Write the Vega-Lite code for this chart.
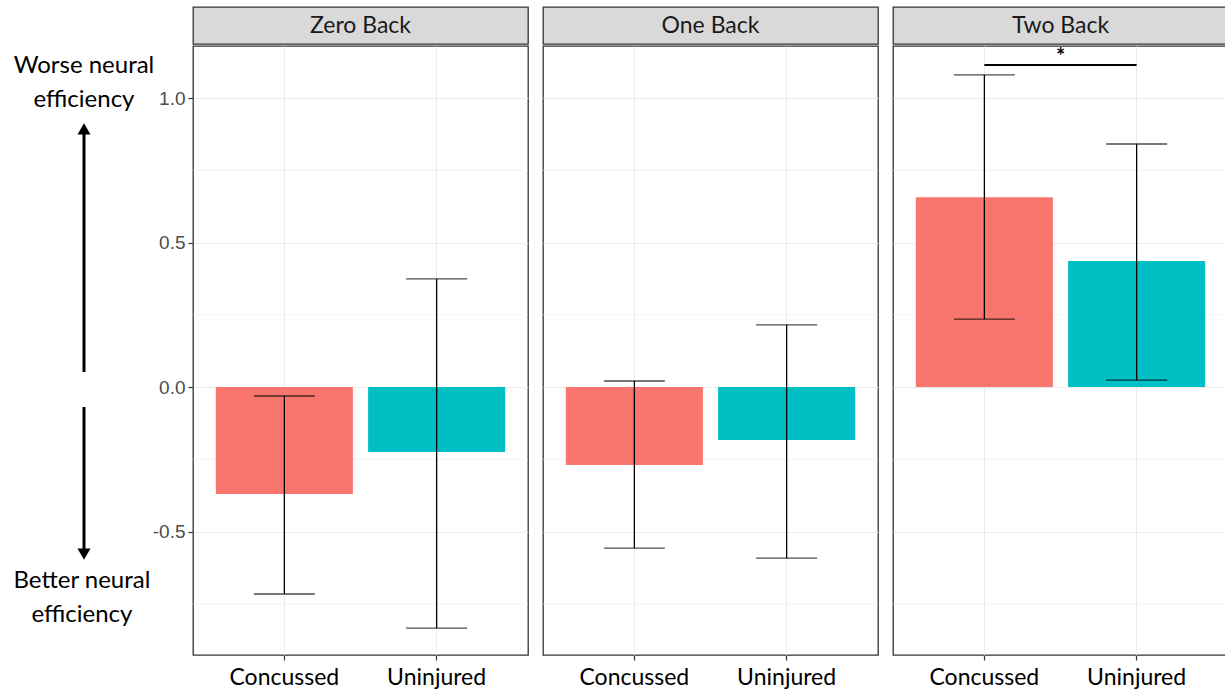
{
  "$schema": "https://vega.github.io/schema/vega-lite/v6.json",
  "padding": {"left": 0, "top": 6, "right": 0, "bottom": 0},
  "background": "white",
  "bounds": "flush",
  "datasets": {
    "bars": [
      {"task": "Zero Back", "group": "Concussed", "mean": -0.370, "lo": -0.716, "hi": -0.031},
      {"task": "Zero Back", "group": "Uninjured", "mean": -0.225, "lo": -0.834, "hi": 0.374},
      {"task": "One Back", "group": "Concussed", "mean": -0.270, "lo": -0.557, "hi": 0.021},
      {"task": "One Back", "group": "Uninjured", "mean": -0.183, "lo": -0.592, "hi": 0.215},
      {"task": "Two Back", "group": "Concussed", "mean": 0.657, "lo": 0.235, "hi": 1.080},
      {"task": "Two Back", "group": "Uninjured", "mean": 0.436, "lo": 0.024, "hi": 0.841}
    ],
    "grid": [{"v": -0.75}, {"v": -0.25}, {"v": 0.25}, {"v": 0.75}],
    "sig": [{"task": "Two Back", "from": "Concussed", "to": "Uninjured", "y": 1.114, "label": "*", "ly": 1.142}],
    "notes": [
      {"label": "Worse neural", "x": 0.6, "y": 1.104},
      {"label": "efficiency", "x": 0.6, "y": 0.986},
      {"label": "Better neural", "x": 0.585, "y": -0.678},
      {"label": "efficiency", "x": 0.585, "y": -0.796}
    ],
    "shafts": [
      {"x": 0.6, "y1": 0.045, "y2": 0.87},
      {"x": 0.6, "y1": -0.076, "y2": -0.57}
    ],
    "heads": [
      {"x": 0.6, "y": 0.886, "dir": "up"},
      {"x": 0.6, "y": -0.585, "dir": "down"}
    ],
    "strips": [{"task": "Zero Back"}, {"task": "One Back"}, {"task": "Two Back"}]
  },
  "config": {
    "axis": {"domain": false, "titleFont": "Lato"},
    "text": {"font": "Lato"}
  },
  "spacing": 53,
  "hconcat": [
    {
      "width": 140,
      "height": 646,
      "view": {"stroke": null},
      "layer": [
        {
          "data": {"name": "shafts"},
          "mark": {"type": "rule", "strokeWidth": 3, "color": "black"},
          "encoding": {
            "x": {"field": "x", "type": "quantitative", "scale": {"domain": [0, 1]}, "axis": null},
            "y": {"field": "y1", "type": "quantitative", "scale": {"domain": [-0.927, 1.308], "nice": false, "zero": false}, "axis": null},
            "y2": {"field": "y2"}
          }
        },
        {
          "data": {"name": "heads"},
          "mark": {"type": "point", "filled": true, "color": "black", "opacity": 1, "size": 170},
          "encoding": {
            "x": {"field": "x", "type": "quantitative", "scale": {"domain": [0, 1]}, "axis": null},
            "y": {"field": "y", "type": "quantitative", "scale": {"domain": [-0.927, 1.308], "nice": false, "zero": false}, "axis": null},
            "shape": {"field": "dir", "type": "nominal", "scale": {"domain": ["up", "down"], "range": ["triangle-up", "triangle-down"]}, "legend": null}
          }
        },
        {
          "data": {"name": "notes"},
          "mark": {"type": "text", "font": "Lato", "fontSize": 24, "color": "black", "align": "center", "baseline": "middle"},
          "encoding": {
            "x": {"field": "x", "type": "quantitative", "scale": {"domain": [0, 1]}, "axis": null},
            "y": {"field": "y", "type": "quantitative", "scale": {"domain": [-0.927, 1.308], "nice": false, "zero": false}, "axis": null},
            "text": {"field": "label"}
          }
        }
      ]
    },
    {
      "spacing": 13,
      "hconcat": [
        {
          "spacing": 0,
          "vconcat": [
            {
              "width": 335, "height": 37,
              "view": {"fill": "#d9d9d9", "stroke": "#333333", "strokeWidth": 1.3},
              "data": {"name": "strips"},
              "transform": [{"filter": "datum.task === 'Zero Back'"}],
              "mark": {"type": "text", "font": "Lato", "fontSize": 23, "color": "#1a1a1a"},
              "encoding": {"text": {"field": "task"}}
            },
            {
              "width": 335, "height": 609,
              "view": {"stroke": "#333333", "strokeWidth": 1.3},
              "layer": [
                {
                  "data": {"name": "grid"},
                  "mark": {"type": "rule", "color": "#ebebeb", "strokeWidth": 0.6},
                  "encoding": {
                    "y": {"field": "v", "type": "quantitative", "title": null, "scale": {"domain": [-0.927, 1.180], "nice": false, "zero": false}}
                  }
                },
                {
                  "data": {"name": "bars"},
                  "transform": [{"filter": "datum.task === 'Zero Back'"}],
                  "mark": {"type": "bar"},
                  "encoding": {
                    "x": {"field": "group", "type": "nominal", "title": null, "sort": ["Concussed", "Uninjured"],
                      "scale": {"paddingInner": 0.1, "paddingOuter": 0.15},
                      "axis": {"labelAngle": 0, "labelFont": "Lato", "labelFontSize": 23, "labelColor": "black", "tickColor": "#333333", "tickSize": 5, "tickWidth": 1.2, "bandPosition": 0.5, "grid": true, "gridColor": "#ebebeb", "gridWidth": 1.1, "labelPadding": 6}},
                    "y": {"field": "mean", "type": "quantitative", "title": null,
                      "scale": {"domain": [-0.927, 1.180], "nice": false, "zero": false},
                      "axis": {"values": [-0.5, 0, 0.5, 1], "labelExpr": "replace(format(datum.value, '.1f'), '\u2212', '-')", "labelFont": "Liberation Sans", "labelFontSize": 19, "labelColor": "#4d4d4d", "tickColor": "#333333", "tickSize": 5, "tickWidth": 1.2, "gridColor": "#ebebeb", "gridWidth": 1.1, "labelPadding": 3}},
                    "y2": {"datum": 0},
                    "color": {"field": "group", "type": "nominal", "scale": {"domain": ["Concussed", "Uninjured"], "range": ["#F8766D", "#00BFC4"]}, "legend": null}
                  }
                },
                {
                  "data": {"name": "bars"},
                  "transform": [{"filter": "datum.task === 'Zero Back'"}],
                  "mark": {"type": "rule", "color": "black", "strokeWidth": 1.3},
                  "encoding": {
                    "x": {"field": "group", "type": "nominal", "title": null, "sort": ["Concussed", "Uninjured"]},
                    "y": {"field": "lo", "type": "quantitative", "title": null},
                    "y2": {"field": "hi"}
                  }
                },
                {
                  "data": {"name": "bars"},
                  "transform": [{"filter": "datum.task === 'Zero Back'"}, {"fold": ["lo", "hi"], "as": ["end", "val"]}],
                  "mark": {"type": "tick", "color": "black", "size": 61, "thickness": 1.3, "orient": "horizontal"},
                  "encoding": {
                    "x": {"field": "group", "type": "nominal", "title": null, "sort": ["Concussed", "Uninjured"]},
                    "y": {"field": "val", "type": "quantitative", "title": null}
                  }
                }
              ]
            }
          ]
        },
        {
          "spacing": 0,
          "vconcat": [
            {
              "width": 335, "height": 37,
              "view": {"fill": "#d9d9d9", "stroke": "#333333", "strokeWidth": 1.3},
              "data": {"name": "strips"},
              "transform": [{"filter": "datum.task === 'One Back'"}],
              "mark": {"type": "text", "font": "Lato", "fontSize": 23, "color": "#1a1a1a"},
              "encoding": {"text": {"field": "task"}}
            },
            {
              "width": 335, "height": 609,
              "view": {"stroke": "#333333", "strokeWidth": 1.3},
              "layer": [
                {
                  "data": {"name": "grid"},
                  "mark": {"type": "rule", "color": "#ebebeb", "strokeWidth": 0.6},
                  "encoding": {
                    "y": {"field": "v", "type": "quantitative", "title": null, "scale": {"domain": [-0.927, 1.180], "nice": false, "zero": false}}
                  }
                },
                {
                  "data": {"name": "bars"},
                  "transform": [{"filter": "datum.task === 'One Back'"}],
                  "mark": {"type": "bar"},
                  "encoding": {
                    "x": {"field": "group", "type": "nominal", "title": null, "sort": ["Concussed", "Uninjured"],
                      "scale": {"paddingInner": 0.1, "paddingOuter": 0.15},
                      "axis": {"labelAngle": 0, "labelFont": "Lato", "labelFontSize": 23, "labelColor": "black", "tickColor": "#333333", "tickSize": 5, "tickWidth": 1.2, "bandPosition": 0.5, "grid": true, "gridColor": "#ebebeb", "gridWidth": 1.1, "labelPadding": 6}},
                    "y": {"field": "mean", "type": "quantitative", "title": null,
                      "scale": {"domain": [-0.927, 1.180], "nice": false, "zero": false},
                      "axis": {"values": [-0.5, 0, 0.5, 1], "labels": false, "ticks": false, "gridColor": "#ebebeb", "gridWidth": 1.1}},
                    "y2": {"datum": 0},
                    "color": {"field": "group", "type": "nominal", "scale": {"domain": ["Concussed", "Uninjured"], "range": ["#F8766D", "#00BFC4"]}, "legend": null}
                  }
                },
                {
                  "data": {"name": "bars"},
                  "transform": [{"filter": "datum.task === 'One Back'"}],
                  "mark": {"type": "rule", "color": "black", "strokeWidth": 1.3},
                  "encoding": {
                    "x": {"field": "group", "type": "nominal", "title": null, "sort": ["Concussed", "Uninjured"]},
                    "y": {"field": "lo", "type": "quantitative", "title": null},
                    "y2": {"field": "hi"}
                  }
                },
                {
                  "data": {"name": "bars"},
                  "transform": [{"filter": "datum.task === 'One Back'"}, {"fold": ["lo", "hi"], "as": ["end", "val"]}],
                  "mark": {"type": "tick", "color": "black", "size": 61, "thickness": 1.3, "orient": "horizontal"},
                  "encoding": {
                    "x": {"field": "group", "type": "nominal", "title": null, "sort": ["Concussed", "Uninjured"]},
                    "y": {"field": "val", "type": "quantitative", "title": null}
                  }
                }
              ]
            }
          ]
        },
        {
          "spacing": 0,
          "vconcat": [
            {
              "width": 335, "height": 37,
              "view": {"fill": "#d9d9d9", "stroke": "#333333", "strokeWidth": 1.3},
              "data": {"name": "strips"},
              "transform": [{"filter": "datum.task === 'Two Back'"}],
              "mark": {"type": "text", "font": "Lato", "fontSize": 23, "color": "#1a1a1a"},
              "encoding": {"text": {"field": "task"}}
            },
            {
              "width": 335, "height": 609,
              "view": {"stroke": "#333333", "strokeWidth": 1.3},
              "layer": [
                {
                  "data": {"name": "grid"},
                  "mark": {"type": "rule", "color": "#ebebeb", "strokeWidth": 0.6},
                  "encoding": {
                    "y": {"field": "v", "type": "quantitative", "title": null, "scale": {"domain": [-0.927, 1.180], "nice": false, "zero": false}}
                  }
                },
                {
                  "data": {"name": "bars"},
                  "transform": [{"filter": "datum.task === 'Two Back'"}],
                  "mark": {"type": "bar"},
                  "encoding": {
                    "x": {"field": "group", "type": "nominal", "title": null, "sort": ["Concussed", "Uninjured"],
                      "scale": {"paddingInner": 0.1, "paddingOuter": 0.15},
                      "axis": {"labelAngle": 0, "labelFont": "Lato", "labelFontSize": 23, "labelColor": "black", "tickColor": "#333333", "tickSize": 5, "tickWidth": 1.2, "bandPosition": 0.5, "grid": true, "gridColor": "#ebebeb", "gridWidth": 1.1, "labelPadding": 6}},
                    "y": {"field": "mean", "type": "quantitative", "title": null,
                      "scale": {"domain": [-0.927, 1.180], "nice": false, "zero": false},
                      "axis": {"values": [-0.5, 0, 0.5, 1], "labels": false, "ticks": false, "gridColor": "#ebebeb", "gridWidth": 1.1}},
                    "y2": {"datum": 0},
                    "color": {"field": "group", "type": "nominal", "scale": {"domain": ["Concussed", "Uninjured"], "range": ["#F8766D", "#00BFC4"]}, "legend": null}
                  }
                },
                {
                  "data": {"name": "bars"},
                  "transform": [{"filter": "datum.task === 'Two Back'"}],
                  "mark": {"type": "rule", "color": "black", "strokeWidth": 1.3},
                  "encoding": {
                    "x": {"field": "group", "type": "nominal", "title": null, "sort": ["Concussed", "Uninjured"]},
                    "y": {"field": "lo", "type": "quantitative", "title": null},
                    "y2": {"field": "hi"}
                  }
                },
                {
                  "data": {"name": "bars"},
                  "transform": [{"filter": "datum.task === 'Two Back'"}, {"fold": ["lo", "hi"], "as": ["end", "val"]}],
                  "mark": {"type": "tick", "color": "black", "size": 61, "thickness": 1.3, "orient": "horizontal"},
                  "encoding": {
                    "x": {"field": "group", "type": "nominal", "title": null, "sort": ["Concussed", "Uninjured"]},
                    "y": {"field": "val", "type": "quantitative", "title": null}
                  }
                },
                {
                  "data": {"name": "sig"},
                  "mark": {"type": "rule", "color": "black", "strokeWidth": 2},
                  "encoding": {
                    "x": {"field": "from", "type": "nominal", "title": null, "bandPosition": 0.5, "sort": ["Concussed", "Uninjured"]},
                    "x2": {"field": "to", "bandPosition": 0.5},
                    "y": {"field": "y", "type": "quantitative", "title": null}
                  }
                },
                {
                  "data": {"name": "sig"},
                  "mark": {"type": "text", "font": "Lato", "fontSize": 22, "fontWeight": "bold", "color": "black", "align": "center", "baseline": "middle"},
                  "encoding": {
                    "x": {"field": "from", "type": "nominal", "title": null, "bandPosition": 1.056, "sort": ["Concussed", "Uninjured"]},
                    "y": {"field": "ly", "type": "quantitative", "title": null},
                    "text": {"field": "label"}
                  }
                }
              ]
            }
          ]
        }
      ]
    }
  ]
}
